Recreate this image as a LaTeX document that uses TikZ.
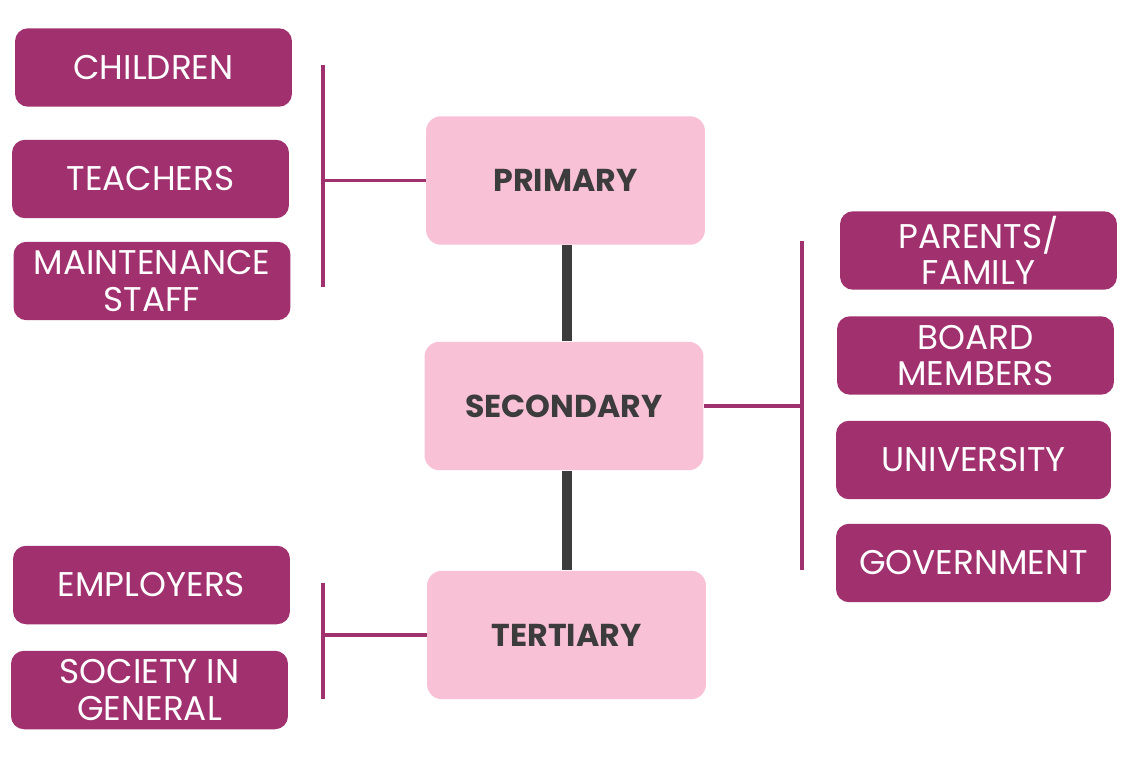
\documentclass[tikz,border=0pt]{standalone}
\usepackage{fontspec}
\setmainfont{Poppins}
\usepackage{tikz}
\usetikzlibrary{calc}
\definecolor{plum}{RGB}{160,48,110}
\definecolor{blush}{RGB}{249,193,214}
\definecolor{charcoal}{RGB}{60,60,60}
\tikzset{
  stakeholder/.style={
    shape = rectangle,
    fill = plum,
    text = white,
    rounded corners = 0.26cm,
    minimum width = 5.54cm,
    minimum height = 1.57cm,
    align = center,
    inner sep = 0pt,
    font = \fontsize{19.5}{20.6}\selectfont
  },
  level/.style={
    shape = rectangle,
    fill = blush,
    text = charcoal,
    rounded corners = 0.3cm,
    minimum width = 5.58cm,
    minimum height = 2.57cm,
    inner sep = 0pt,
    font = \fontsize{18}{20}\selectfont\bfseries
  },
  bracket/.style={
    draw = plum,
    line width = 2.2pt
  },
  link/.style={
    draw = charcoal,
    line width = 5.6pt
  }
}
\begin{document}
\begin{tikzpicture}[x=0.02cm,y=-0.02cm]
  \useasboundingbox (0,0) rectangle (1138,770);
  % levels
  \node[level] (primary) at (565.5,180.5) {PRIMARY};
  \node[level] (secondary) at (564,406) {SECONDARY};
  \node[level] (tertiary) at (566.5,635) {TERTIARY};
  \draw[link] (primary.south -| 567,0) -- (secondary.north -| 567,0);
  \draw[link] (secondary.south -| 567,0) -- (tertiary.north -| 567,0);
  % primary group
  \node[stakeholder] (children) at (153.5,67.5) {CHILDREN};
  \node[stakeholder] (teachers) at (150.5,179) {TEACHERS};
  \node[stakeholder] (maintenance) at (152,281) {MAINTENANCE\\STAFF};
  \coordinate (ptop) at (323,65);
  \coordinate (pbot) at (323,287);
  \draw[bracket] (ptop) -- (pbot);
  \draw[bracket] (primary.west) -- (primary.west -| ptop);
  % secondary group
  \node[stakeholder] (parents) at (978.5,250.5) {PARENTS/\\FAMILY};
  \node[stakeholder] (board) at (975.5,355.5) {BOARD\\MEMBERS};
  \node[stakeholder, minimum width=5.5cm] (university) at (973.5,460) {UNIVERSITY};
  \node[stakeholder, minimum width=5.5cm] (government) at (973.5,563) {GOVERNMENT};
  \coordinate (stop) at (802,241);
  \coordinate (sbot) at (802,570);
  \draw[bracket] (stop) -- (sbot);
  \draw[bracket] (secondary.east) -- (secondary.east -| stop);
  % tertiary group
  \node[stakeholder] (employers) at (151.5,585) {EMPLOYERS};
  \node[stakeholder] (society) at (149.5,690) {SOCIETY IN\\GENERAL};
  \coordinate (ttop) at (323,583);
  \coordinate (tbot) at (323,699);
  \draw[bracket] (ttop) -- (tbot);
  \draw[bracket] (tertiary.west) -- (tertiary.west -| ttop);
\end{tikzpicture}
\end{document}
